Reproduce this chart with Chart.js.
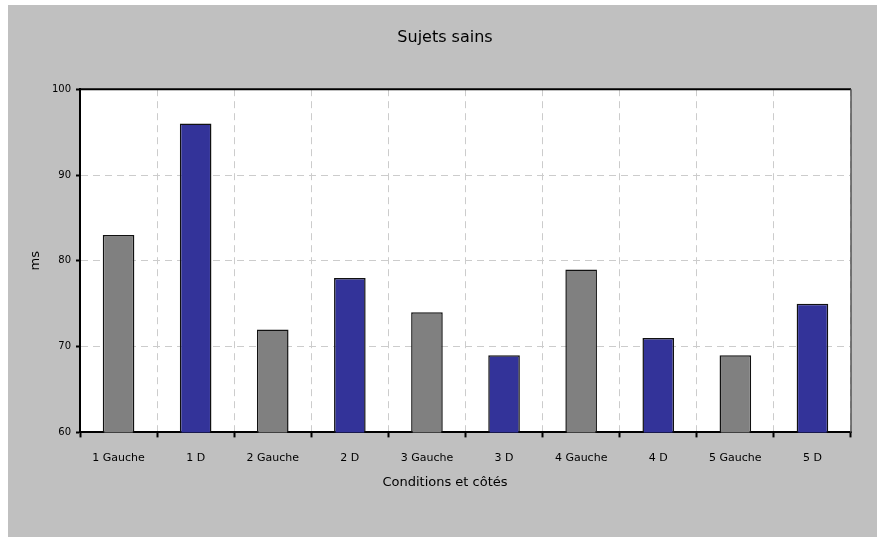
<!DOCTYPE html>
<html>
<head>
<meta charset="utf-8">
<script src="https://cdn.jsdelivr.net/npm/chart.js@4/dist/chart.umd.min.js"></script>
<style>
  html, body { margin: 0; padding: 0; background: #fff; }
  #wrap { position: absolute; left: 8px; top: 5px; width: 869px; height: 532px; background: #c0c0c0; }
</style>
</head>
<body>
<div id="wrap"><canvas id="bargraph" width="869" height="532"></canvas></div>
<script>
var labels = ["1 Gauche", "1 D", "2 Gauche", "2 D", "3 Gauche", "3 D", "4 Gauche", "4 D", "5 Gauche", "5 D"];
var values = [83, 96, 72, 78, 74, 69, 79, 71, 69, 75];
var colors = ["#808080", "#333399", "#808080", "#333399", "#808080", "#333399", "#808080", "#333399", "#808080", "#333399"];

var fontFam = "'Comic Sans MS', 'DejaVu Sans', sans-serif";

// white plot area + black frame top/right
var plotBox = {
    id: "plotBox",
    beforeDraw: function(chart){
        var a = chart.chartArea, c = chart.ctx;
        c.save();
        c.fillStyle = "#fff";
        c.fillRect(a.left, a.top, a.right - a.left, a.bottom - a.top);
        c.restore();
    },
    afterDraw: function(chart){
        var a = chart.chartArea, c = chart.ctx;
        c.save();
        c.strokeStyle = "#000";
        c.lineWidth = 2;
        c.beginPath();
        c.moveTo(a.left, a.top);
        c.lineTo(a.right, a.top);
        c.stroke();
        c.strokeStyle = "#555";
        c.lineWidth = 1.5;
        c.beginPath();
        c.moveTo(a.right, a.top);
        c.lineTo(a.right, a.bottom);
        c.stroke();
        c.restore();
    }
};

var ctx = document.getElementById("bargraph");
var chart = new Chart(ctx, {
    type: "bar",
    data: {
        labels: labels,
        datasets: [{
            data: values,
            backgroundColor: colors,
            borderColor: "#111",
            borderWidth: 1.5,
            borderSkipped: false,
            barPercentage: 0.41,
            categoryPercentage: 1
        }]
    },
    plugins: [plotBox],
    options: {
        responsive: false,
        animation: false,
        layout: { padding: { top: 0, left: 31, right: 26, bottom: 0 } },
        plugins: {
            legend: { display: false },
            tooltip: { enabled: false },
            title: {
                display: true,
                text: "Sujets sains",
                color: "#000",
                font: { family: fontFam, size: 16, weight: "normal" },
                padding: { top: 23, bottom: 42 }
            },
            subtitle: {
                display: true,
                position: "bottom",
                text: "Conditions et côtés",
                color: "#000",
                font: { family: fontFam, size: 13, weight: "normal" },
                padding: { top: 0, bottom: 47 }
            }
        },
        scales: {
            x: {
                grid: {
                    color: "#cccccc",
                    tickColor: "#000",
                    tickLength: 5,
                    tickWidth: 2,
                    offset: true
                },
                border: { color: "#000", width: 2, dash: [7, 5] },
                ticks: {
                    color: "#000",
                    padding: 14,
                    font: { family: fontFam, size: 11 }
                },
                afterFit: function(s){ s.height = 42; }
            },
            y: {
                min: 60,
                max: 100,
                ticks: {
                    stepSize: 10,
                    color: "#000",
                    padding: 5,
                    font: { family: fontFam, size: 10 }
                },
                grid: {
                    color: "#cccccc",
                    tickColor: "#000",
                    tickLength: 4,
                    tickWidth: 2
                },
                border: { color: "#000", width: 2, dash: [7, 5] },
                title: {
                    display: true,
                    text: "ms",
                    color: "#000",
                    font: { family: fontFam, size: 13 },
                    padding: { top: -11, bottom: 0 }
                },
                afterFit: function(s){ s.width = 41; }
            }
        }
    }
});
</script>
</body>
</html>
